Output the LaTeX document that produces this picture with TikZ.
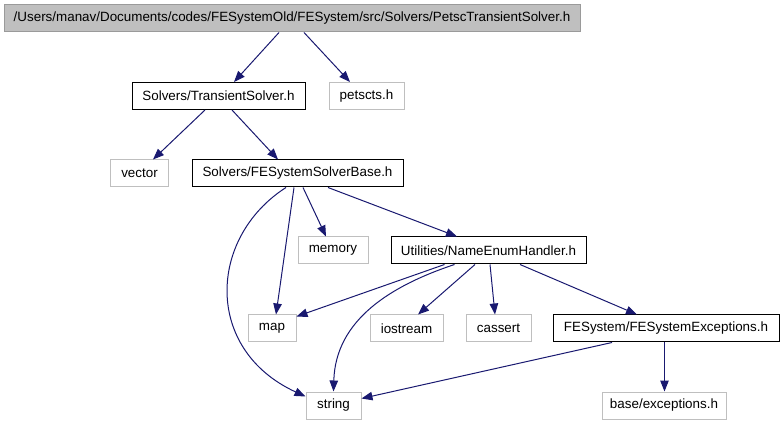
\documentclass[tikz,border=0pt]{standalone}
\usepackage{fontspec}
\setmainfont{Liberation Sans}
\usetikzlibrary{arrows.meta}
\definecolor{edgeblue}{HTML}{191970}
\definecolor{lightbord}{HTML}{BFBFBF}
\definecolor{topfill}{HTML}{BFBFBF}
\definecolor{topbord}{HTML}{9A9A9A}
\tikzset{
  filebox/.style={rectangle, inner sep=0pt, minimum height=27pt, line width=1pt,
    font=\fontsize{13.4}{15}\selectfont, text=black},
  docbox/.style={filebox, draw=black},
  sysbox/.style={filebox, draw=lightbord},
  rootbox/.style={filebox, draw=topbord, fill=topfill},
  dep/.style={draw=edgeblue, line width=1pt, -{Triangle[length=11pt,width=8.5pt]}, fill=none},
}
\begin{document}
\begin{tikzpicture}[x=1pt,y=-1pt]
\useasboundingbox (0,0) rectangle (784,427);
\node[rootbox, minimum width=576pt] (root) at (292,18.5) {/Users/manav/Documents/codes/FESystemOld/FESystem/src/Solvers/PetscTransientSolver.h};
\node[docbox, minimum width=173pt] (ts) at (218.5,96) {Solvers/TransientSolver.h};
\node[sysbox, minimum width=75pt] (petsc) at (366.5,96) {petscts.h};
\node[sysbox, minimum width=58pt] (vector) at (139.5,173.5) {vector};
\node[docbox, minimum width=211pt] (sb) at (297.5,173.5) {Solvers/FESystemSolverBase.h};
\node[sysbox, minimum width=70pt] (memory) at (333,250.5) {memory};
\node[docbox, minimum width=195pt] (neh) at (488.5,250.5) {Utilities/NameEnumHandler.h};
\node[sysbox, minimum width=48pt] (map) at (272,328.5) {map};
\node[sysbox, minimum width=73pt] (iostream) at (406.5,328.5) {iostream};
\node[sysbox, minimum width=65pt] (cassert) at (498.5,328.5) {cassert};
\node[docbox, minimum width=226pt] (fee) at (666,328.5) {FESystem/FESystemExceptions.h};
\node[sysbox, minimum width=55pt] (string) at (333.5,405.5) {string};
\node[sysbox, minimum width=124pt] (basex) at (664,405.5) {base/exceptions.h};

\draw[dep] ([xshift=-13pt]root.south) -- ([xshift=15.5pt]ts.north);
\draw[dep] ([xshift=12pt]root.south) -- ([xshift=-16.5pt]petsc.north);
\draw[dep] ([xshift=-13.5pt]ts.south) -- ([xshift=13.5pt]vector.north);
\draw[dep] ([xshift=13.5pt]ts.south) -- ([xshift=-19.5pt]sb.north);
\draw[dep] ([xshift=-11.5pt]sb.south) .. controls +(-78,50) and +(-102,-47) .. ([yshift=-5pt]string.north west);
\draw[dep] ([xshift=-3.5pt]sb.south) -- ([xshift=4pt]map.north);
\draw[dep] ([xshift=5.5pt]sb.south) -- ([xshift=-7pt]memory.north);
\draw[dep] ([xshift=30.5pt]sb.south) -- ([xshift=-31.5pt]neh.north);
\draw[dep] ([xshift=-44pt]neh.south) -- ([yshift=-2pt]map.north east);
\draw[dep] ([xshift=-34pt]neh.south) .. controls +(-63,21) and +(2,-72) .. (string.north);
\draw[dep] ([xshift=-13.5pt]neh.south) -- ([xshift=11.5pt]iostream.north);
\draw[dep] ([xshift=1.5pt]neh.south) -- ([xshift=-3.5pt]cassert.north);
\draw[dep] ([xshift=31.5pt]neh.south) -- ([xshift=-29pt]fee.north);
\draw[dep] ([xshift=-54pt]fee.south) -- ([yshift=-7pt]string.north east);
\draw[dep] ([xshift=-1.5pt]fee.south) -- ([xshift=0.5pt]basex.north);
\end{tikzpicture}
\end{document}
